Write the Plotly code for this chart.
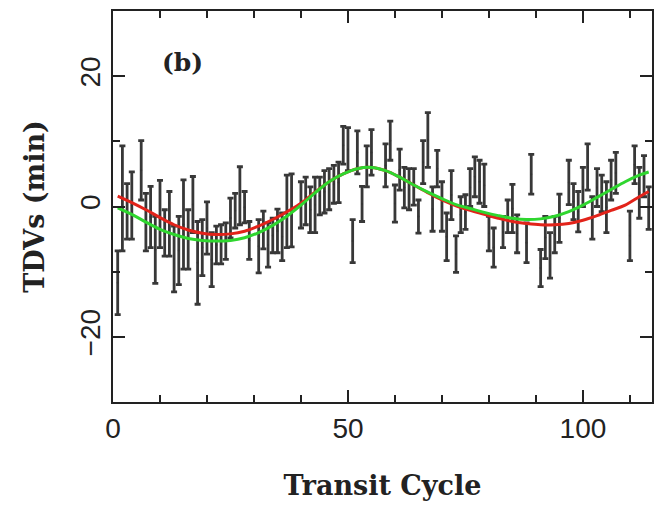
import plotly.graph_objects as go

cycle = [1, 2, 3, 4, 6, 7, 8, 9, 10, 11, 12, 13, 14, 15, 16, 17, 18, 19, 20, 21,
         22, 23, 24, 25, 26, 27, 28, 29, 31, 32, 33, 34, 35, 36, 37, 38, 40, 41, 42, 43,
         44, 45, 46, 47, 48, 49, 50, 51, 52, 53, 54, 55, 58, 59, 60, 61, 62, 63, 64, 65,
         66, 67, 68, 69, 70, 71, 72, 73, 74, 75, 76, 77, 78, 79, 80, 81, 83, 84, 85, 86,
         88, 89, 91, 92, 93, 94, 95, 97, 98, 99, 100, 101, 102, 103, 104, 105, 106, 107, 110, 111,
         112, 113, 114]
tdv = [-11.7, 1.25, -0.75, 0.15, 5.55, -2.4, -1.6, -6.65, -1.15, -4.05, -2.65, -8.05, -6.75, -2.75, -5.05, 0.3, -8.65, -6.3, -3.3, -8.15,
       -5.9, -5.8, -5.3, -1.75, -0.65, 1.65, -0.1, -5.2, -6.1, -3.6, -5.9, -4.45, -3.75, -4.65, -0.75, -0.6, 0.25, 0.85, -0.5, 0.25,
       1.6, 2.25, 2.65, 3.4, 3.7, 9.4, 8.8, -5.3, 8.3, 0.4, 6.15, 8.3, 6.3, 10.1, 0.45, 5.65, 2.9, 2.65, 3.0, -1.55,
       6.8, 10.2, -0.4, 5.8, 0.0, -4.65, 1.75, -7.3, -1.25, -0.85, 2.9, 4.55, 3.8, 3.25, -4.15, -6.3, -3.9, -1.5, -0.3, -4.2,
       -5.55, 4.95, -9.45, -4.75, -7.5, -4.3, -1.8, 3.7, 0.75, -0.8, 3.0, 6.05, -1.75, 2.9, 2.0, -0.1, 4.05, 5.15, -4.5, 6.4,
       2.1, 4.65, -0.25]
err = [4.9, 8.05, 4.25, 5.15, 4.55, 4.4, 4.7, 5.15, 5.15, 3.55, 4.95, 5.05, 5.25, 6.85, 4.55, 4.3, 6.35, 4.3, 4.0, 4.15,
       2.9, 3.0, 2.8, 3.05, 2.65, 4.45, 2.4, 2.9, 4.1, 2.9, 3.4, 2.65, 3.35, 3.65, 5.55, 5.6, 3.55, 3.65, 3.5, 4.25,
       2.9, 3.25, 3.15, 2.9, 3.1, 2.9, 3.3, 3.3, 3.3, 2.7, 3.15, 3.5, 3.3, 3.0, 2.85, 3.15, 3.1, 3.15, 2.8, 2.55,
       3.3, 4.2, 3.4, 2.8, 3.8, 3.65, 3.75, 2.8, 2.75, 2.65, 2.9, 3.05, 3.3, 3.25, 2.65, 3.0, 2.4, 2.5, 3.7, 2.9,
       3.05, 3.05, 2.85, 3.25, 3.5, 2.8, 3.7, 3.4, 2.75, 3.1, 3.0, 3.55, 3.25, 2.9, 2.8, 3.9, 3.05, 3.15, 3.8, 2.9,
       3.9, 3.15, 3.25]

# Model curves
model_x = [1, 4, 7, 10, 13, 16, 19, 22, 25, 28, 31, 34, 37, 40, 43, 46, 49, 52, 55, 58,
           61, 64, 67, 70, 73, 76, 79, 82, 85, 88, 91, 94, 97, 100, 103, 106, 109, 112, 114]
red_y = [1.6, 0.6, -0.5, -1.7, -2.8, -3.6, -4.1, -4.3, -4.2, -3.8, -3.0, -2.0, -0.8, 0.5, 2.2, 3.8, 5.0, 5.8, 6.0, 5.5,
         4.5, 3.3, 2.1, 1.0, 0.1, -0.6, -1.2, -1.8, -2.3, -2.6, -2.8, -2.8, -2.6, -2.1, -1.4, -0.6, 0.2, 1.5, 2.3]
green_y = [-0.2, -1.2, -2.4, -3.5, -4.3, -4.9, -5.2, -5.3, -5.2, -4.8, -4.0, -2.9, -1.5, 0.2, 2.1, 3.8, 5.0, 5.8, 6.0, 5.5,
           4.5, 3.3, 2.2, 1.2, 0.3, -0.3, -0.9, -1.4, -1.8, -2.0, -1.9, -1.5, -0.8, 0.2, 1.4, 2.6, 3.8, 4.8, 5.3]

x_ticks = [0, 50, 100]
y_ticks = [-20, 0, 20]

fig = go.Figure()
fig.add_trace(go.Scatter(
    x=cycle, y=tdv, mode="markers",
    marker=dict(size=2, color="#333333"),
    error_y=dict(type="data", array=err, visible=True, color="#383838", thickness=2.8, width=3),
    showlegend=False, hoverinfo="skip"))
fig.add_trace(go.Scatter(x=model_x, y=red_y, mode="lines", line=dict(color="#e2231a", width=3, shape="spline"),
                         showlegend=False))
fig.add_trace(go.Scatter(x=model_x, y=green_y, mode="lines", line=dict(color="#2fd62f", width=3, shape="spline"),
                         showlegend=False))

tickfont = dict(family="Liberation Sans, Arial, sans-serif", size=28, color="#222222")
titlefont = dict(family="DejaVu Serif, serif", size=27, color="#222222")

# the page adds an 8px body margin, so the figure is sized to fill the rest of the window
fig.update_layout(
    width=655, height=498,
    margin=dict(l=105, r=11, t=1, b=104),
    paper_bgcolor="white", plot_bgcolor="white",
    xaxis=dict(range=[0, 114.7], tickmode="array", tickvals=x_ticks, ticktext=[str(v) for v in x_ticks],
               ticks="inside", ticklen=12, tickwidth=1.5, tickcolor="#222222",
               minor=dict(dtick=10, tick0=0, ticks="inside", ticklen=7, tickwidth=1.5, tickcolor="#222222"),
               showline=True, linewidth=2, linecolor="#222222", mirror="allticks",
               showgrid=False, zeroline=False, tickfont=tickfont,
               title=dict(text="<b>Transit Cycle</b>", font=titlefont, standoff=34)),
    yaxis=dict(range=[-30, 30], tickmode="array", tickvals=y_ticks, ticktext=["\u221220", "0", "20"],
               tickangle=-90, ticklabelstandoff=0,
               ticks="inside", ticklen=12, tickwidth=1.5, tickcolor="#222222",
               minor=dict(dtick=10, tick0=0, ticks="inside", ticklen=7, tickwidth=1.5, tickcolor="#222222"),
               showline=True, linewidth=2, linecolor="#222222", mirror="allticks",
               showgrid=False, zeroline=False, tickfont=tickfont,
               title=dict(text="<b>TDVs (min)</b>", font=titlefont, standoff=22)),
    annotations=[dict(x=14.7, y=22.1, xref="x", yref="y", text="<b>(b)</b>", showarrow=False,
                      font=dict(family="DejaVu Serif, serif", size=25, color="#222222"))],
)

fig.write_html("out.html")
